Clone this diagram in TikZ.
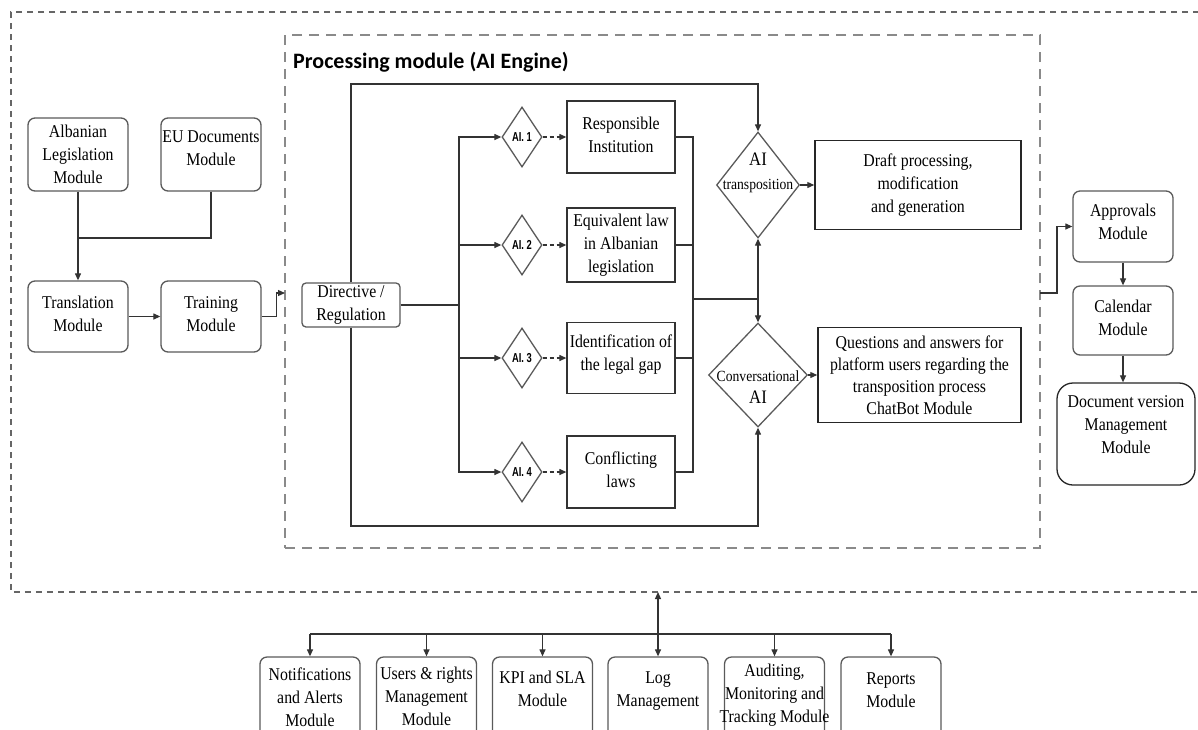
\documentclass[tikz,border=0pt]{standalone}
\usepackage{fontspec}
\setmainfont{Liberation Serif}[FakeStretch=0.88]
\newfontfamily\titlefont{Carlito}
\newfontfamily\narrowsans{Liberation Sans}[FakeStretch=0.72]
\usetikzlibrary{shapes.geometric,arrows.meta}
\definecolor{boxgray}{HTML}{5A5A5A}
\definecolor{linegray}{HTML}{333333}
\definecolor{dashgray}{HTML}{8A8A8A}
\definecolor{odashgray}{HTML}{666666}
\newcommand{\mainsz}{\fontsize{18}{23}\selectfont}
\tikzset{
  lbl/.style={align=center,font=\mainsz,inner sep=0pt,text=black},
  rbox/.style={draw=boxgray,line width=1.3pt,rounded corners=7pt,minimum width=100pt,inner sep=0pt},
  sbox/.style={draw=linegray,line width=1.3pt,minimum width=108pt,inner sep=0pt},
  bbox/.style={draw=black!85,line width=1.5pt,inner sep=0pt},
  dmd/.style={diamond,draw=boxgray,line width=1.3pt,inner sep=0pt},
  conn/.style={draw=linegray,line width=1.2pt},
  arr/.style={conn,-{Triangle[length=7pt,width=6pt]}},
  darr/.style={conn,dash pattern=on 4pt off 3pt,-{Triangle[length=7pt,width=6pt]}},
  biarr/.style={conn,{Triangle[length=7pt,width=6pt]}-{Triangle[length=7pt,width=6pt]}},
  innerdash/.style={draw=dashgray,line width=1.4pt,dash pattern=on 10pt off 7pt},
  outerdash/.style={draw=odashgray,line width=1.2pt,dash pattern=on 6pt off 5pt},
  ailbl/.style={font=\narrowsans\bfseries\fontsize{13}{14}\selectfont,inner sep=0pt}
}
\begin{document}
\begin{tikzpicture}[x=1pt,y=-1pt]
\useasboundingbox (0,0) rectangle (1198,729);
\fill[white] (0,0) rectangle (1198,729);

% outer container
\draw[outerdash] (1210,12) -- (11,12) -- (11,592) -- (1210,592);

% processing module container
\node[innerdash,minimum width=755pt,minimum height=513pt,inner sep=0pt] (proc) at (662.5,291.5) {};
\node[font=\titlefont\bfseries\fontsize{22}{26}\selectfont,anchor=base west,inner sep=0pt] (title) at (293,68) {Processing module (AI Engine)};

% left modules
\node[rbox,minimum height=73pt,label={[lbl]center:Albanian\\Legislation\\Module}] (alb) at (78,154.5) {};
\node[rbox,minimum height=73pt,label={[lbl,yshift=6pt]center:EU Documents\\Module}] (eu) at (211,154.5) {};
\node[rbox,minimum height=71pt,label={[lbl,yshift=3pt]center:Translation\\Module}] (trans) at (78,316.5) {};
\node[rbox,minimum height=71pt,label={[lbl,yshift=2pt]center:Training\\Module}] (train) at (211,316.5) {};

\coordinate (j1) at (78,238);
\draw[arr] (alb.south) -- (trans.north);
\draw[conn] (eu.south) |- (j1);
\draw[arr] (trans.east) -- (train.west);
\coordinate (pin) at (285,293);
\draw[arr] (train.east) -- ++(15,0) |- (pin);

% directive
\node[rbox,rounded corners=4pt,minimum width=98pt,minimum height=44pt,label={[lbl]center:Directive /\\Regulation}] (dir) at (351,305) {};

% AI diamonds
\node[dmd,minimum width=40pt,minimum height=60pt,label={[ailbl]center:AI. 1}] (d1) at (522,137) {};
\node[dmd,minimum width=40pt,minimum height=60pt,label={[ailbl]center:AI. 2}] (d2) at (522,245) {};
\node[dmd,minimum width=40pt,minimum height=60pt,label={[ailbl]center:AI. 3}] (d3) at (522,358) {};
\node[dmd,minimum width=40pt,minimum height=60pt,label={[ailbl]center:AI. 4}] (d4) at (522,472) {};

% analysis boxes
\node[sbox,minimum height=72pt,label={[lbl,yshift=2pt]center:Responsible\\Institution}] (b1) at (621,137) {};
\node[sbox,minimum height=74pt,label={[lbl]center:Equivalent law\\in Albanian\\legislation}] (b2) at (621,245) {};
\node[sbox,minimum height=71pt,label={[lbl,yshift=3pt]center:Identification of\\the legal gap}] (b3) at (621,358) {};
\node[sbox,minimum height=72pt,label={[lbl,yshift=2pt]center:Conflicting\\laws}] (b4) at (621,472) {};

% branch from directive
\coordinate (br) at (459,305);
\draw[conn] (dir.east) -- (br);
\draw[arr] (br) |- (d1.west);
\draw[arr] (br) |- (d2.west);
\draw[arr] (br) |- (d3.west);
\draw[arr] (br) |- (d4.west);
\draw[darr] (d1.east) -- (b1.west);
\draw[darr] (d2.east) -- (b2.west);
\draw[darr] (d3.east) -- (b3.west);
\draw[darr] (d4.east) -- (b4.west);

% right diamonds
\node[dmd,minimum width=83pt,minimum height=106pt,
  label={[align=center,inner sep=0pt,yshift=12pt,font=\fontsize{15.5}{24}\selectfont]center:{\fontsize{19}{24}\selectfont AI}\\{\fontsize{15.5}{24}\selectfont transposition}}] (aitr) at (758,185) {};
\node[dmd,minimum width=99pt,minimum height=104pt,
  label={[align=center,inner sep=0pt,yshift=-12pt,font=\fontsize{15.5}{22}\selectfont]center:{\fontsize{15.5}{22}\selectfont Conversational}\\{\fontsize{19}{22}\selectfont AI}}] (conv) at (758,375) {};

% collector
\coordinate (col) at (693,299);
\coordinate (mid) at (758,299);
\draw[conn] (b1.east) -| (col);
\draw[conn] (b2.east) -| (col);
\draw[conn] (b3.east) -| (col);
\draw[conn] (b4.east) -| (col);
\draw[conn] (col) -- (mid);
\draw[arr] (mid) -- (aitr.south);
\draw[arr] (mid) -- (conv.north);

% rails from directive
\coordinate (toprail) at (351,84);
\coordinate (botrail) at (351,526);
\draw[arr] (dir.north) -- (toprail) -| (aitr.north);
\draw[arr] (dir.south) -- (botrail) -| (conv.south);

% output boxes
\node[bbox,minimum width=206pt,minimum height=89pt,label={[lbl]center:Draft processing,\\modification\\and generation}] (draft) at (918,185) {};
\node[bbox,minimum width=203pt,minimum height=95pt,label={[lbl,font=\fontsize{18}{22}\selectfont]center:Questions and answers for\\platform users regarding the\\transposition process\\ChatBot Module}] (qa) at (919.5,375) {};
\draw[arr] (aitr.east) -- (draft.west);
\draw[arr] (conv.east) -- (qa.west);

% right modules
\node[rbox,minimum height=71pt,label={[lbl,yshift=5pt]center:Approvals\\Module}] (appr) at (1123,226.5) {};
\node[rbox,minimum height=69pt,label={[lbl,yshift=3pt]center:Calendar\\Module}] (cal) at (1123,320.5) {};
\node[draw=black!85,line width=1.3pt,rounded corners=16pt,minimum width=138pt,minimum height=102pt,inner sep=0pt,
  label={[lbl,yshift=9pt]center:Document version\\Management\\Module}] (docv) at (1126,434) {};
\coordinate (pout) at (1040,293);
\draw[arr] (pout) -- ++(17,0) |- (appr.west);
\draw[arr] (appr.south) -- (cal.north);
\draw[arr] (cal.south) -- (cal.south |- docv.north);

% bottom modules
\node[rbox,minimum height=80pt,label={[lbl,yshift=0pt]center:Notifications\\and Alerts\\Module}] (n1) at (310,697) {};
\node[rbox,minimum height=80pt,label={[lbl,yshift=1pt]center:Users \& rights\\Management\\Module}] (n2) at (426.5,697) {};
\node[rbox,minimum height=80pt,label={[lbl,yshift=8pt]center:KPI and SLA\\Module}] (n3) at (542.5,697) {};
\node[rbox,minimum height=80pt,label={[lbl,yshift=6pt]center:Log\\Management}] (n4) at (658,697) {};
\node[rbox,minimum height=80pt,label={[lbl,yshift=2pt]center:Auditing,\\Monitoring and\\Tracking Module}] (n5) at (774.5,697) {};
\node[rbox,minimum height=80pt,label={[lbl,yshift=7pt]center:Reports\\Module}] (n6) at (891,697) {};

\coordinate (obot) at (658,592);
\coordinate (dist) at (658,634);
\draw[biarr] (obot) -- (n4.north);
\draw[conn] (n1.north |- dist) -- (n6.north |- dist);
\draw[arr] (n1.north |- dist) -- (n1.north);
\draw[arr] (n2.north |- dist) -- (n2.north);
\draw[arr] (n3.north |- dist) -- (n3.north);
\draw[arr] (n5.north |- dist) -- (n5.north);
\draw[arr] (n6.north |- dist) -- (n6.north);
\end{tikzpicture}
\end{document}
